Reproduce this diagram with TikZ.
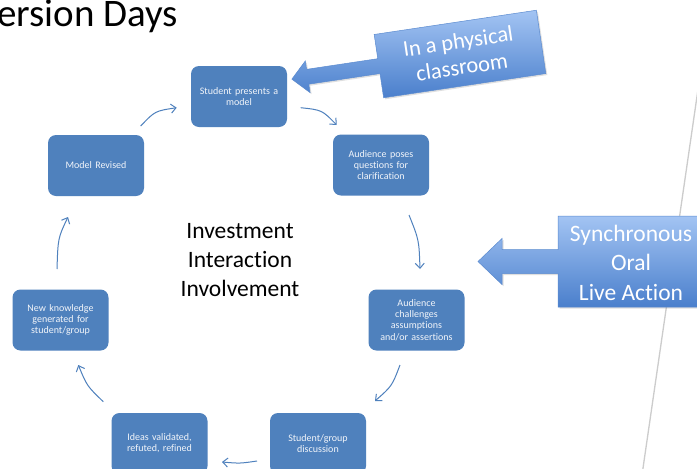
\documentclass[tikz,border=0pt]{standalone}
\usepackage{fontspec}
\setmainfont{Carlito}[Ligatures={NoCommon}]
\usetikzlibrary{arrows.meta,shadows}
\definecolor{boxblue}{HTML}{4F81BD}
\definecolor{boxtext}{HTML}{F2F5FA}
\definecolor{caltop}{HTML}{A3C4F3}
\definecolor{calbot}{HTML}{4A7FCC}
\definecolor{calline}{HTML}{5B8BD0}
\tikzset{
  cyclebox/.style={rounded corners=8pt, fill=boxblue, minimum width=96pt, minimum height=61pt,
    text width=86pt, align=center, inner sep=0pt, text=boxtext, font=\fontsize{10}{11.2}\selectfont},
  conn/.style={draw=boxblue, line width=1pt, -{Straight Barb[length=5pt,width=9pt]}},
  callout/.style={top color=caltop, bottom color=calbot, draw=calline, line width=0.5pt,
    drop shadow={opacity=0.25, shadow xshift=1.5pt, shadow yshift=-1.5pt}},
  calltext/.style={text=white, align=center, inner sep=0pt, font=\fontsize{23.5}{29.5}\selectfont}
}
\begin{document}
\begin{tikzpicture}[x=1pt, y=-1pt]
\useasboundingbox (0,0) rectangle (697,469);
\fill[white] (0,0) rectangle (697,469);

% title (partly cut)
\node[anchor=base west, inner sep=0pt, font=\fontsize{39}{44}\selectfont] (title) at (-3,26) {ersion Days};

% faint slanted line on the right
\draw[gray!40, line width=1.3pt] (711,0) -- (642,475);

% cycle boxes
\node[cyclebox] (s1) at (239,96.5) {Student presents a\\model};
\node[cyclebox] (s2) at (381,165) {Audience poses\\questions for\\clarification};
\node[cyclebox] (s3) at (416.5,320) {Audience\\challenges\\assumptions\\and/or assertions};
\node[cyclebox] (s4) at (318,443.5) {Student/group\\discussion};
\node[cyclebox] (s5) at (159.5,443.5) {Ideas validated,\\refuted, refined};
\node[cyclebox] (s6) at (60.5,320) {New knowledge\\generated for\\student/group};
\node[cyclebox] (s7) at (96,165.5) {Model Revised};

% centre text
\node[align=center, inner sep=0pt, font=\fontsize{23.5}{29}\selectfont] (centre) at (240,260)
  {Investment\\Interaction\\Involvement};

% connector end points
\coordinate (a1) at (140.7,126);   \coordinate (b1) at (176.7,107.7);
\coordinate (a2) at (300.7,107.7); \coordinate (b2) at (336.7,125);
\coordinate (a3) at (409,215);     \coordinate (b3) at (420,269);
\coordinate (a4) at (400,365);     \coordinate (b4) at (375,401);
\coordinate (a5) at (257,461);     \coordinate (b5) at (222,462);
\coordinate (a6) at (103.3,401.7); \coordinate (b6) at (78.3,365);
\coordinate (a7) at (57,269);      \coordinate (b7) at (68,217);

\draw[conn] (a1) .. controls (155,111) .. (b1);
\draw[conn] (a2) .. controls (322,110) .. (b2);
\draw[conn] (a3) .. controls (419,240) .. (b3);
\draw[conn] (a4) .. controls (392,386) .. (b4);
\draw[conn] (a5) .. controls (240,463.5) .. (b5);
\draw[conn] (a6) .. controls (87,386) .. (b6);
\draw[conn] (a7) .. controls (58,238) .. (b7);

% callout 1 (rotated)
\begin{scope}[shift={(460,54)}, rotate=8.5]
  \path[callout] (-82,-32) -- (82,-32) -- (82,32) -- (-82,32) -- (-82,7.5) -- (-154,7.5)
     -- (-154,16) -- (-170,0) -- (-154,-16) -- (-154,-7.5) -- (-82,-7.5) -- cycle;
  \node[calltext, rotate=8.5, font=\fontsize{22.5}{26}\selectfont] (call1) at (0,0) {In a physical\\classroom};
\end{scope}

% callout 2
\path[callout] (705,216) -- (558,216) -- (558,249.5) -- (502,249.5) -- (502,238.5) -- (478,261.5)
   -- (502,284.5) -- (502,273.5) -- (558,273.5) -- (558,307) -- (705,307) -- cycle;
\node[calltext] (call2) at (631,262.5) {Synchronous\\Oral\\Live Action};
\end{tikzpicture}
\end{document}
